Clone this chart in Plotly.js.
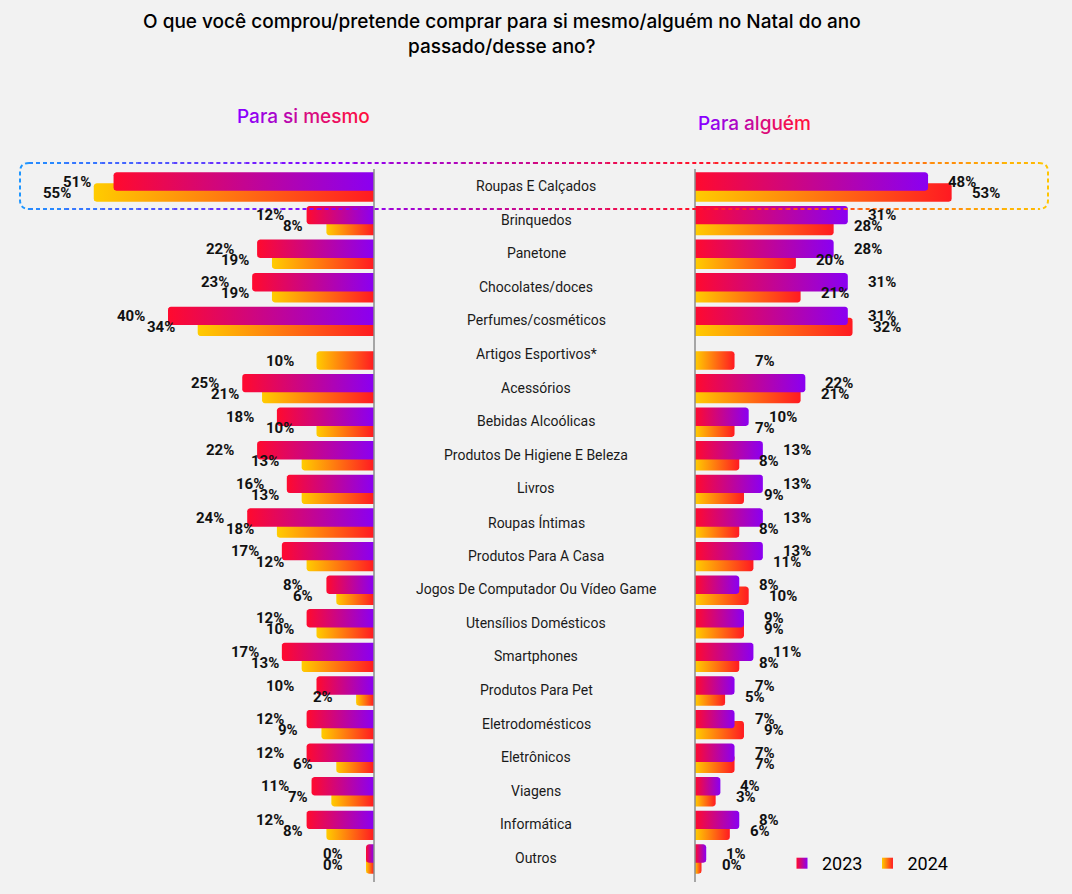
<!DOCTYPE html>
<html><head><meta charset="utf-8">
<script src="https://cdn.plot.ly/plotly-3.0.1.min.js"></script>
<style>html,body{margin:0;padding:0;background:#f2f2f2}</style>
</head><body><div id="chart" style="width:1072px;height:894px"></div>
<script>
// ---------- DATA ----------
const categories = ["Roupas E Calçados","Brinquedos","Panetone","Chocolates/doces","Perfumes/cosméticos","Artigos Esportivos*","Acessórios","Bebidas Alcoólicas","Produtos De Higiene E Beleza","Livros","Roupas Íntimas","Produtos Para A Casa","Jogos De Computador Ou Vídeo Game","Utensílios Domésticos","Smartphones","Produtos Para Pet","Eletrodomésticos","Eletrônicos","Viagens","Informática","Outros"];
const self2023  = [51,12,22,23,40,null,25,18,22,16,24,17,8,12,17,10,12,12,11,12,0];
const self2024  = [55,8,19,19,34,10,21,10,13,13,18,12,6,10,13,2,9,6,7,8,0];
const other2023 = [48,31,28,31,31,null,22,10,13,13,13,13,8,9,11,7,7,7,4,8,1];
const other2024 = [53,28,20,21,32,7,21,7,8,9,8,11,10,9,8,5,9,7,3,6,0];
const years = ["2023","2024"];
const panelTitles = ["Para si mesmo","Para alguém"];
const chartTitle = "O que você comprou/pretende comprar para si mesmo/alguém no Natal do ano<br>passado/desse ano?";

// ---------- STYLE / GEOMETRY ----------
const W=1072, H=894;
const AXL=374, SL=4.95, ML=8;      // left panel: axis line px, px per %, min bar length px
const AXR=695, SR=4.72, MR=6.5;    // right panel
const ROW0=187, PITCH=33.6, HALF=9.2, OFF=5.5, RAD=3;
const BL=-ML/SL, BR=-MR/SR;
const hh=HALF/PITCH, off=OFF/PITCH;
const RED23='#ff0a2e', PUR23='#8a00f2', YEL24='#ffcc00', RED24='#ff1a22';

function barPath(base, v, yc, scale){
  const rx=RAD/scale, ry=RAD/PITCH;
  const xs=[base], ys=[yc-hh];
  xs.push(v-rx); ys.push(yc-hh);
  for(const t of [30,60]){const a=t*Math.PI/180; xs.push(v-rx+rx*Math.sin(a)); ys.push(yc-hh+ry-ry*Math.cos(a));}
  xs.push(v); ys.push(yc-hh+ry);
  xs.push(v); ys.push(yc+hh-ry);
  for(const t of [60,30]){const a=t*Math.PI/180; xs.push(v-rx+rx*Math.sin(a)); ys.push(yc+hh-ry+ry*Math.cos(a));}
  xs.push(v-rx); ys.push(yc+hh);
  xs.push(base); ys.push(yc+hh);
  xs.push(base); ys.push(yc-hh);
  return {xs, ys};
}

const traces=[], annotations=[], shapes=[];
const valFont={family:'Roboto, sans-serif', size:15, color:'#111111', weight:'bold'};

function addSeries(vals, side, yearIdx){
  const left = side==='L';
  const base = left?BL:BR, scale = left?SL:SR, xa = left?'x':'x2';
  let cs;
  if(yearIdx===0) cs = left?[[0,PUR23],[1,RED23]]:[[0,RED23],[1,PUR23]];
  else cs = left?[[0,RED24],[1,YEL24]]:[[0,YEL24],[1,RED24]];
  const dy = yearIdx===0?-off:off;
  vals.forEach((v,i)=>{
    if(v===null) return;
    const yc=i+dy;
    const p=barPath(base,v,yc,scale);
    traces.push({type:'scatter', mode:'none', x:p.xs, y:p.ys, xaxis:xa, yaxis:'y', fill:'toself',
      fillgradient:{type:'horizontal', start:base, stop:v, colorscale:cs},
      hoverinfo:'skip', showlegend:false});
    annotations.push({xref:xa, yref:'y', x:v, y:yc, text:v+'%', showarrow:false,
      xanchor:left?'right':'left', xshift:left?-21:18, font:valFont});
  });
}
// 2024 first (underneath), then 2023 on top
addSeries(self2024,'L',1); addSeries(other2024,'R',1);
addSeries(self2023,'L',0); addSeries(other2023,'R',0);

// legend-only traces
traces.push({type:'scatter', mode:'markers', x:[null], y:[null], xaxis:'x2', yaxis:'y', name:years[0],
  marker:{symbol:'square', size:11, color:RED23, gradient:{type:'horizontal', color:PUR23}}, hoverinfo:'skip'});
traces.push({type:'scatter', mode:'markers', x:[null], y:[null], xaxis:'x2', yaxis:'y', name:years[1],
  marker:{symbol:'square', size:11, color:YEL24, gradient:{type:'horizontal', color:RED24}}, hoverinfo:'skip'});

// category labels
categories.forEach((c,i)=>{
  annotations.push({xref:'paper', yref:'y', x:536/W, y:i, yshift:1, text:c, showarrow:false,
    xanchor:'center', font:{family:'Roboto, sans-serif', size:14, color:'#1a1a1a'}});
});

// main title
annotations.push({xref:'paper', yref:'paper', x:501.5/W, y:1-34/H, text:chartTitle, showarrow:false,
  xanchor:'center', yanchor:'middle', align:'center',
  font:{family:'Inter, sans-serif', size:19, color:'#000000', weight:500}});

// panel titles with per-letter gradient
function hex2rgb(h){return [1,3,5].map(k=>parseInt(h.substr(k,2),16));}
function mix(c1,c2,t){const a=hex2rgb(c1),b=hex2rgb(c2);return 'rgb('+a.map((v,k)=>Math.round(v+(b[k]-v)*t)).join(',')+')';}
function gradText(s,c1,c2){const n=s.length-1;return s.split('').map((ch,k)=>'<span style="color:'+mix(c1,c2,k/n)+'">'+ch+'</span>').join('');}
annotations.push({xref:'paper', yref:'paper', x:303/W, y:1-117/H, text:gradText(panelTitles[0],'#8a00ff','#ff1040'),
  showarrow:false, xanchor:'center', yanchor:'middle', font:{family:'Inter, sans-serif', size:19, weight:500}});
annotations.push({xref:'paper', yref:'paper', x:754/W, y:1-124/H, text:gradText(panelTitles[1],'#8a00ff','#ff1040'),
  showarrow:false, xanchor:'center', yanchor:'middle', font:{family:'Inter, sans-serif', size:19, weight:500}});

// vertical axis lines
[AXL,AXR].forEach(px=>shapes.push({type:'line', xref:'paper', yref:'paper', x0:px/W, x1:px/W, y0:1-169/H, y1:1-882/H,
  line:{color:'#8c8c8c', width:1.5}}));

// dashed highlight box around first row (gradient stroke approximated with segments)
const boxStops=[[20,'#1f96ff'],[330,'#8b00ff'],[690,'#ff1030'],[880,'#ff6a10'],[1048,'#ffc400']];
function boxColor(px){
  for(let k=0;k<boxStops.length-1;k++){const [a,ca]=boxStops[k],[b,cb]=boxStops[k+1];
    if(px<=b) return mix(ca,cb,Math.max(0,(px-a)/(b-a)));}
  return boxStops[boxStops.length-1][1];
}
const BX0=20,BX1=1048,BY0=163,BY1=209,BR_=9;
const nSeg=28, segW=(BX1-BX0-2*BR_)/nSeg;
const dashStyle='4px,3px';
for(let k=0;k<nSeg;k++){
  const a=BX0+BR_+k*segW, b=a+segW, col=boxColor((a+b)/2);
  [BY0,BY1].forEach(py=>shapes.push({type:'line', xref:'paper', yref:'paper', x0:a/W, x1:b/W, y0:1-py/H, y1:1-py/H,
    line:{color:col, width:2, dash:dashStyle}}));
}
function P(x,y){return (x/W).toFixed(5)+','+(1-y/H).toFixed(5);}
shapes.push({type:'path', xref:'paper', yref:'paper', line:{color:boxColor(BX0), width:2, dash:dashStyle},
  path:'M'+P(BX0+BR_,BY0)+' Q'+P(BX0,BY0)+' '+P(BX0,BY0+BR_)+' L'+P(BX0,BY1-BR_)+' Q'+P(BX0,BY1)+' '+P(BX0+BR_,BY1)});
shapes.push({type:'path', xref:'paper', yref:'paper', line:{color:boxColor(BX1), width:2, dash:dashStyle},
  path:'M'+P(BX1-BR_,BY0)+' Q'+P(BX1,BY0)+' '+P(BX1,BY0+BR_)+' L'+P(BX1,BY1-BR_)+' Q'+P(BX1,BY1)+' '+P(BX1-BR_,BY1)});

const layout={
  width:W, height:H, margin:{l:0,r:0,t:0,b:0},
  paper_bgcolor:'#f2f2f2', plot_bgcolor:'#f2f2f2',
  xaxis:{domain:[0,AXL/W], range:[AXL/SL+BL, BL], visible:false, fixedrange:true},
  xaxis2:{domain:[AXR/W,1], range:[BR, BR+(W-AXR)/SR], visible:false, anchor:'y', fixedrange:true},
  yaxis:{range:[(H-ROW0)/PITCH, -ROW0/PITCH], visible:false, fixedrange:true},
  showlegend:true,
  legend:{orientation:'h', x:782/W, xanchor:'left', y:1-845/H, yanchor:'top', bgcolor:'rgba(0,0,0,0)',
    font:{family:'Roboto, sans-serif', size:18, color:'#000000'}, itemclick:false, itemdoubleclick:false},
  annotations, shapes
};
Plotly.newPlot('chart', traces, layout, {displayModeBar:false, staticPlot:true});
</script></body></html>
